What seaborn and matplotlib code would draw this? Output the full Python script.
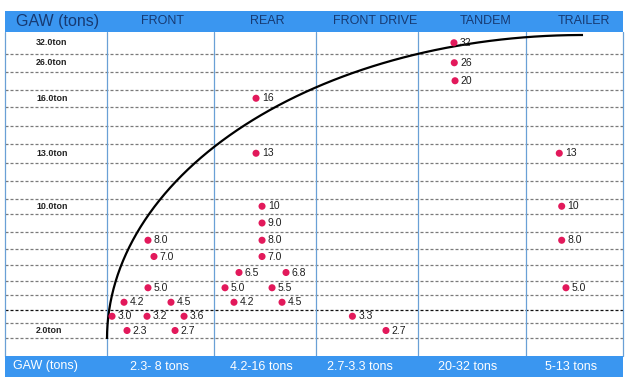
import numpy as np
import pandas as pd
import matplotlib
matplotlib.use("Agg")
import matplotlib.pyplot as plt
import seaborn as sns

# ---------------- data ----------------
axles = ["FRONT", "REAR", "FRONT DRIVE", "TANDEM", "TRAILER"]
ranges = ["2.3- 8 tons", "4.2-16 tons", "2.7-3.3 tons", "20-32 tons", "5-13 tons"]

front_gaw = [8.0, 7.0, 5.0, 4.2, 4.5, 3.0, 3.2, 3.6, 2.3, 2.7]
rear_gaw = [16, 13, 10, 9.0, 8.0, 7.0, 6.5, 6.8, 5.0, 5.5, 4.2, 4.5]
front_drive_gaw = [3.3, 2.7]
tandem_gaw = [32, 26, 20]
trailer_gaw = [13, 10, 8.0, 5.0]

# weight bands shown as table rows (bottom to top)
levels = [2, 3, 4, 5, 6, 7, 8, 9, 10, 11, 12, 13, 14, 15, 16, 20, 26, 32]
row_labels = [32, 26, 16, 13, 10, 2]

# trend arc: quarter ellipse from its lower-left end to its upper-right end
# (column units, row units)
arc_start = (-0.5, -0.556)
arc_end = (4.088, 17.36)

# ---------------- layout ----------------
# horizontal placement of the dots inside their column (fraction of column)
dodge = {
    "FRONT": [-0.117, -0.061, -0.117, -0.341, 0.098, -0.453, -0.126, 0.220, -0.313, 0.136],
    "REAR": [-0.088, -0.088, -0.029, -0.029, -0.029, -0.029, -0.255, 0.206, -0.392, 0.069, -0.304, 0.167],
    "FRONT DRIVE": [-0.143, 0.186],
    "TANDEM": [-0.167, -0.164, -0.157],
    "TRAILER": [-0.157, -0.132, -0.132, -0.088],
}
col_widths = [102, 107, 102, 102, 108, 97]          # label column + 5 axle columns
row_heights = [18, 15, 13.5, 14.5, 14.5, 16, 16, 16.5, 18, 15.5, 17.5,
               18, 19.5, 18, 18.5, 17.5, 17.5, 18.5, 21.5]  # spare row + 18 bands
head_shift = [0, 0.015, 0.02, 0.08, 0.13, 0.10]
foot_shift = [0, -0.014, -0.04, -0.07, -0.04, -0.04]

BLUE = "#3a96f0"
NAVY = "#173a72"
GRID_BLUE = "#6aa0d6"
DOT = "#e2195b"


def ladder(sizes, start):
    """Piecewise-linear scale where unit cell k has the given size."""
    edges_d = start + np.arange(len(sizes) + 1, dtype=float)
    edges_p = np.r_[0, np.cumsum(sizes)]
    s0 = (edges_p[1] - edges_p[0])
    s1 = (edges_p[-1] - edges_p[-2])
    d = np.r_[edges_d[0] - 1000, edges_d, edges_d[-1] + 1000]
    p = np.r_[edges_p[0] - 1000 * s0, edges_p, edges_p[-1] + 1000 * s1]
    fwd = lambda v: np.interp(np.asarray(v, float), d, p)
    inv = lambda v: np.interp(np.asarray(v, float), p, d)
    return fwd, inv


xfwd, xinv = ladder(col_widths, -1.5)
yfwd, yinv = ladder(row_heights, -1.5)

# ---------------- table of points ----------------
groups = [front_gaw, rear_gaw, front_drive_gaw, tandem_gaw, trailer_gaw]
recs = []
for i, (name, vals) in enumerate(zip(axles, groups)):
    for v, dx in zip(vals, dodge[name]):
        row = int(np.searchsorted(levels, v, side="right") - 1)
        recs.append({"axle": name, "gaw": v, "x": i + dx, "row": row})
df = pd.DataFrame(recs)

# ---------------- figure ----------------
sns.set_theme(style="white")
plt.rcParams["font.family"] = ["Liberation Sans", "DejaVu Sans"]

W, H = 628, 381
fig = plt.figure(figsize=(W / 100, H / 100), dpi=100)
fig.patch.set_facecolor("white")

left, right = 5 / W, 623 / W
ax = fig.add_axes([left, 1 - 356 / H, right - left, (356 - 32) / H])
axh = fig.add_axes([left, 1 - 32 / H, right - left, 21 / H], sharex=ax)
axf = fig.add_axes([left, 1 - 377 / H, right - left, 21 / H], sharex=ax)

for a in (ax, axh, axf):
    a.set_xscale("function", functions=(xfwd, xinv))
ax.set_yscale("function", functions=(yfwd, yinv))
ax.set_xlim(-1.5, 4.5)
ax.set_ylim(-1.5, 17.5)

for a in (ax, axh, axf):
    for s in a.spines.values():
        s.set_visible(False)
    a.set_xticks([])
    a.set_yticks([])
    a.set_xlabel("")
    a.set_ylabel("")
ax.set_facecolor("white")
axh.set_facecolor(BLUE)
axf.set_facecolor(BLUE)

# dashed row separators
for k in range(-1, 17):
    edge = k + 0.5
    dark = (edge == 1.5)
    ax.axhline(edge, color="#111111" if dark else "#7a7a7a",
               lw=0.9, dashes=(2.4, 1.6), zorder=1)

# column separators and outer borders
for e in np.arange(-1.5, 4.6, 1.0):
    ax.axvline(e, color=GRID_BLUE, lw=0.9, zorder=2, clip_on=False)

# trend arc: quarter ellipse laid out in the scaled (screen-proportional) space
x0, y0 = xfwd(arc_start[0]), yfwd(arc_start[1])
x1, y1 = xfwd(arc_end[0]), yfwd(arc_end[1])
t = np.linspace(0, np.pi / 2, 200)
ex = x1 - (x1 - x0) * np.cos(t)
ey = y0 + (y1 - y0) * np.sin(t)
ax.plot(xinv(ex), yinv(ey), color="black", lw=1.6,
        solid_capstyle="butt", zorder=4)

# data points
sns.scatterplot(data=df, x="x", y="row", color=DOT, s=26, edgecolor="none",
                legend=False, ax=ax, zorder=5)
ax.set_xlabel("")
ax.set_ylabel("")


def fmt(v):
    return f"{v:.1f}" if v < 10 else f"{v:.0f}"


for _, r in df.iterrows():
    ax.annotate(fmt(r["gaw"]), (r["x"], r["row"]), xytext=(4.2, 0),
                textcoords="offset points", ha="left", va="center",
                fontsize=7.5, color="#1e1e1e", zorder=6)

# band labels in the first column
for v in row_labels:
    ax.text(-1.196, levels.index(v), f"{v:.1f}ton", ha="left", va="center",
            fontsize=6.4, fontweight="bold", color="#222222")

# header and footer bars
tx = axh.get_xaxis_transform()
axh.text(-0.98 + head_shift[0], 0.5, "GAW (tons)", transform=tx, ha="center",
         va="center", fontsize=11.5, color=NAVY)
for i, name in enumerate(axles):
    axh.text(i + head_shift[i + 1], 0.5, name, transform=tx, ha="center",
             va="center", fontsize=9, color=NAVY)

fx = axf.get_xaxis_transform()
axf.text(-1.42, 0.5, "GAW (tons)", transform=fx, ha="left", va="center",
         fontsize=9, color="white")
for i, lab in enumerate(ranges):
    axf.text(i + foot_shift[i + 1], 0.5, lab, transform=fx, ha="center",
             va="center", fontsize=9, color="white")

fig.savefig("out.png", dpi=100, facecolor="white")
